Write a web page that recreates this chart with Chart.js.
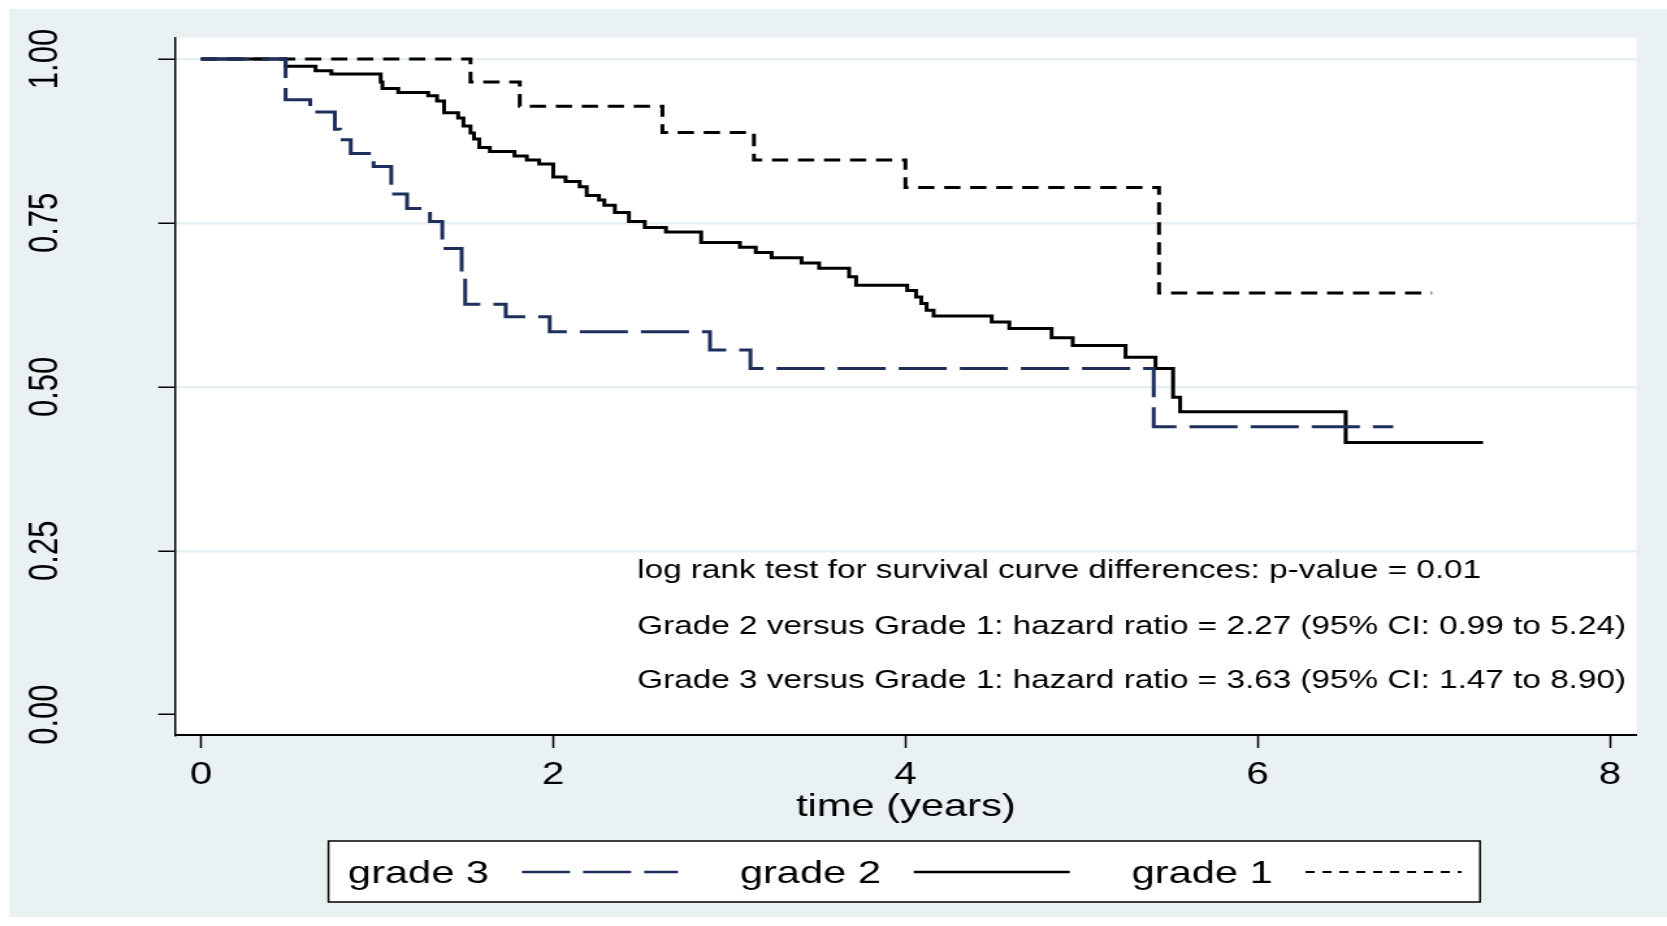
<!DOCTYPE html>
<html>
<head>
<meta charset="utf-8">
<title>Survival by grade</title>
<script src="https://cdn.jsdelivr.net/npm/chart.js@4.4.1/dist/chart.umd.min.js"></script>
<style>
  html, body { margin: 0; padding: 0; background: #fff; overflow: hidden; }
  /* the original graph is stretched horizontally, so draw narrow and stretch */
  #wrap { width: 1282px; height: 926px; transform: scaleX(1.30031); transform-origin: 0 0; }
  #kmChart { display: block; width: 1282px; height: 926px; }
</style>
</head>
<body>
<div id="wrap"><canvas id="kmChart" width="1282" height="926"></canvas></div>
<script>
// Kaplan-Meier estimates (time in years, survival)
const grade3Time = [0, 0.48, 0.62, 0.76, 0.79, 0.85, 0.98, 1.08, 1.17, 1.30, 1.37, 1.48, 1.50, 1.73, 1.98, 2.89, 3.12, 5.41, 6.77];
const grade3Surv = [1, 0.938, 0.919, 0.893, 0.877, 0.856, 0.836, 0.794, 0.772, 0.752, 0.711, 0.668, 0.626, 0.607, 0.584, 0.556, 0.528, 0.439, 0.439];

const grade2Time = [0, 0.48, 0.65, 0.74, 1.02, 1.03, 1.12, 1.29, 1.34, 1.38, 1.46, 1.49, 1.53, 1.55, 1.58, 1.64,
    1.78, 1.85, 1.92, 2.00, 2.07, 2.15, 2.19, 2.26, 2.29, 2.35, 2.43, 2.52, 2.64, 2.84, 3.06, 3.15, 3.24, 3.41, 3.51,
    3.68, 3.72, 4.01, 4.06, 4.09, 4.12, 4.16, 4.49, 4.59, 4.83, 4.95, 5.25, 5.42, 5.52, 5.56, 6.50, 7.28];
const grade2Surv = [1, 0.989, 0.982, 0.977, 0.965, 0.955, 0.949, 0.944, 0.936, 0.918, 0.910, 0.898, 0.887, 0.878, 0.865, 0.859,
    0.852, 0.846, 0.840, 0.820, 0.813, 0.805, 0.792, 0.785, 0.777, 0.766, 0.752, 0.743, 0.736, 0.720, 0.713, 0.705, 0.697, 0.689, 0.681,
    0.668, 0.655, 0.647, 0.637, 0.627, 0.617, 0.608, 0.599, 0.589, 0.575, 0.563, 0.545, 0.528, 0.484, 0.462, 0.415, 0.415];

const grade1Time = [0, 1.53, 1.81, 2.62, 3.14, 4.00, 5.44, 6.99];
const grade1Surv = [1, 0.965, 0.928, 0.888, 0.846, 0.804, 0.643, 0.643];

const seriesLabels = ['grade 3', 'grade 2', 'grade 1'];
const xTickValues = [0, 2, 4, 6, 8];
const yTickValues = [0, 0.25, 0.5, 0.75, 1];

const notes = [
    'log rank test for survival curve differences: p-value = 0.01',
    'Grade 2 versus Grade 1: hazard ratio = 2.27 (95% CI: 0.99 to 5.24)',
    'Grade 3 versus Grade 1: hazard ratio = 3.63 (95% CI: 1.47 to 8.90)'
];
const noteX = 2.477;
const noteY = [0.219, 0.134, 0.051];

const FONT = "'Liberation Sans', Arial, Helvetica, sans-serif";
const BG = '#eaf1f3';

function toPoints(times, surv) {
    return times.map((t, i) => ({ x: t, y: surv[i] }));
}

// Stata-like background: light graph region, white plot region
const backgroundPlugin = {
    id: 'stataBackground',
    beforeDraw(chart) {
        const { ctx, chartArea } = chart;
        ctx.save();
        ctx.fillStyle = '#fff';
        ctx.fillRect(0, 0, chart.width, chart.height);
        ctx.fillStyle = BG;
        ctx.fillRect(7, 9, chart.width - 7, 908);
        ctx.fillStyle = '#fff';
        ctx.fillRect(chartArea.left, chartArea.top, chartArea.right - chartArea.left, chartArea.bottom - chartArea.top);
        ctx.restore();
    }
};

// rotated y labels, the text notes and the boxed legend
const decorPlugin = {
    id: 'stataDecor',
    afterDraw(chart) {
        const { ctx } = chart;
        const xs = chart.scales.x;
        const ys = chart.scales.y;
        ctx.save();

        ctx.fillStyle = '#000';
        ctx.font = '31px ' + FONT;
        ctx.textAlign = 'center';
        ctx.textBaseline = 'middle';
        ys.ticks.forEach(tick => {
            const py = ys.getPixelForValue(tick.value);
            ctx.save();
            ctx.translate(35, py);
            ctx.rotate(-Math.PI / 2);
            ctx.fillText(tick.value.toFixed(2), 0, 0);
            ctx.restore();
        });

        ctx.font = '25.6px ' + FONT;
        ctx.textAlign = 'left';
        notes.forEach((txt, i) => {
            ctx.fillText(txt, xs.getPixelForValue(noteX), ys.getPixelForValue(noteY[i]));
        });

        // legend box
        const box = { left: 252.6, top: 841, right: 1138.2, bottom: 902 };
        ctx.fillStyle = '#fff';
        ctx.fillRect(box.left, box.top, box.right - box.left, box.bottom - box.top);
        ctx.strokeStyle = '#000';
        ctx.lineWidth = 1.5;
        ctx.strokeRect(box.left, box.top, box.right - box.left, box.bottom - box.top);

        const midY = 872;
        ctx.font = '32px ' + FONT;
        ctx.textBaseline = 'middle';
        chart.data.datasets.forEach((ds, i) => {
            const tx = box.left + 15 + i * 301.3;
            ctx.fillStyle = '#000';
            ctx.fillText(ds.label, tx, midY + 2);
            ctx.beginPath();
            ctx.setLineDash(ds.legendDash);
            ctx.strokeStyle = ds.borderColor;
            ctx.lineWidth = ds.legendWidth;
            ctx.moveTo(tx + 133.8, midY);
            ctx.lineTo(tx + 253.8, midY);
            ctx.stroke();
        });
        ctx.restore();
    }
};

const config = {
    type: 'line',
    data: {
        datasets: [
            {
                label: seriesLabels[0],
                data: toPoints(grade3Time, grade3Surv),
                borderColor: '#1f2f5c',
                borderWidth: 3,
                borderDash: [37, 10],
                legendDash: [37, 10],
                legendWidth: 2.6
            },
            {
                label: seriesLabels[1],
                data: toPoints(grade2Time, grade2Surv),
                borderColor: '#000000',
                borderWidth: 3,
                borderDash: [],
                legendDash: [],
                legendWidth: 2.6
            },
            {
                label: seriesLabels[2],
                data: toPoints(grade1Time, grade1Surv),
                borderColor: '#000000',
                borderWidth: 3,
                borderDash: [12.5, 7.5],
                legendDash: [7, 6],
                legendWidth: 2.2
            }
        ]
    },
    options: {
        responsive: false,
        animation: false,
        devicePixelRatio: 1,
        events: [],
        layout: {
            padding: { left: 0, right: 23.4, top: 37.7, bottom: 99.8 }
        },
        datasets: {
            line: {
                stepped: 'before',
                pointRadius: 0,
                fill: false,
                tension: 0
            }
        },
        plugins: {
            legend: { display: false },
            tooltip: { enabled: false }
        },
        scales: {
            x: {
                type: 'linear',
                min: -0.147,
                max: 8.152,
                afterBuildTicks: scale => {
                    scale.ticks = xTickValues.map(v => ({ value: v }));
                },
                afterFit: scale => {
                    scale.height = 91.2;
                },
                ticks: {
                    color: '#000',
                    padding: 8.4,
                    maxRotation: 0,
                    font: { family: FONT, size: 31 },
                    callback: v => String(v)
                },
                grid: {
                    display: true,
                    drawOnChartArea: false,
                    drawTicks: true,
                    tickLength: 13,
                    tickColor: '#000',
                    tickWidth: 1.5
                },
                border: { display: true, color: '#000', width: 2 },
                title: {
                    display: true,
                    text: 'time (years)',
                    color: '#000',
                    padding: 0,
                    font: { family: FONT, size: 32 }
                }
            },
            y: {
                type: 'linear',
                min: -0.031,
                max: 1.0325,
                afterBuildTicks: scale => {
                    scale.ticks = yTickValues.map(v => ({ value: v }));
                },
                afterFit: scale => {
                    scale.width = 134.7;
                },
                ticks: { display: false },
                grid: {
                    color: ctx => (ctx.tick && ctx.tick.value === 0) ? 'rgba(0,0,0,0)' : '#e6eff1',
                    lineWidth: 2.5,
                    drawTicks: true,
                    tickLength: 13,
                    tickColor: '#000',
                    tickWidth: 1.5
                },
                border: { display: true, color: '#000', width: 1.5 }
            }
        }
    },
    plugins: [backgroundPlugin, decorPlugin]
};

const ctx = document.getElementById('kmChart').getContext('2d');
const kmChart = new Chart(ctx, config);
</script>
</body>
</html>
